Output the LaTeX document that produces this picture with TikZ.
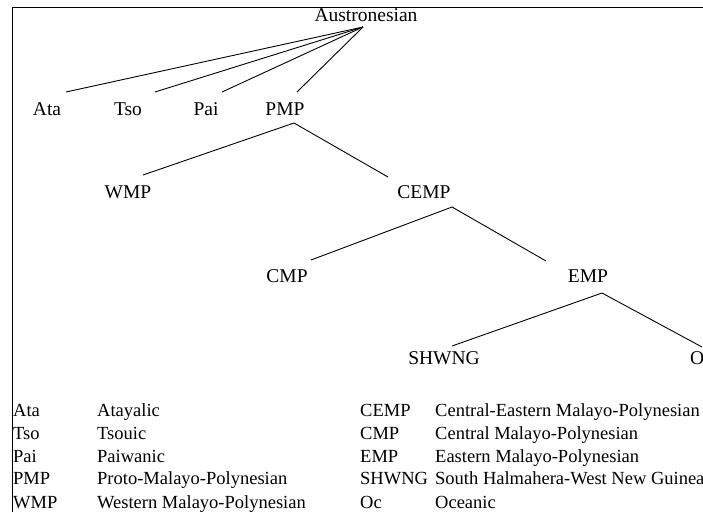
\documentclass[tikz,border=0pt]{standalone}
\usepackage{fontspec}
\setmainfont{Liberation Serif}
\begin{document}
\begin{tikzpicture}[x=1pt,y=-1pt,
  treelabel/.style={inner sep=0pt,anchor=base,font=\fontsize{19.5}{21}\selectfont},
  legabbr/.style={inner sep=0pt,anchor=base west,font=\fontsize{18.5}{20}\selectfont},
  branch/.style={line width=0.9pt},
  frameline/.style={line width=1pt}]
\useasboundingbox (0,0) rectangle (703,512);
\clip (0,0) rectangle (703,512);
% frame
\coordinate (fa) at (12,512);
\coordinate (fb) at (12,7);
\coordinate (fc) at (710,7);
\draw[frameline] (fa) -- (fb) -- (fc);
% tree labels
\node[treelabel] (aus) at (366,21.5) {Austronesian};
\node[treelabel] (ata) at (47,115.5) {Ata};
\node[treelabel] (tso) at (128,115.5) {Tso};
\node[treelabel] (pai) at (206,115.5) {Pai};
\node[treelabel] (pmp) at (285,115.5) {PMP};
\node[treelabel] (wmp) at (128,198.5) {WMP};
\node[treelabel] (cemp) at (424,198.5) {CEMP};
\node[treelabel] (cmp) at (287,282) {CMP};
\node[treelabel] (emp) at (588,282) {EMP};
\node[treelabel] (shwng) at (444,364.5) {SHWNG};
\node[treelabel,anchor=base west] (oc) at (690,364.5) {Oc};
% connector ends
\coordinate (aus-b) at (363,27);
\coordinate (ata-t) at (66,92);
\coordinate (tso-t) at (155,92);
\coordinate (pai-t) at (222,92);
\coordinate (pmp-t) at (297,92);
\coordinate (pmp-b) at (294,123);
\coordinate (wmp-t) at (143,175);
\coordinate (cemp-t) at (388,177);
\coordinate (cemp-b) at (452,207);
\coordinate (cmp-t) at (311,260);
\coordinate (emp-t) at (546,261);
\coordinate (emp-b) at (602,293);
\coordinate (shwng-t) at (452,346);
\coordinate (oc-t) at (702,347);
\draw[branch] (aus-b) -- (ata-t);
\draw[branch] (aus-b) -- (tso-t);
\draw[branch] (aus-b) -- (pai-t);
\draw[branch] (aus-b) -- (pmp-t);
\draw[branch] (wmp-t) -- (pmp-b) -- (cemp-t);
\draw[branch] (cmp-t) -- (cemp-b) -- (emp-t);
\draw[branch] (shwng-t) -- (emp-b) -- (oc-t);
% legend
\node[legabbr] (l1a) at (13,416) {Ata};
\node[legabbr] (l1b) at (97,416) {Atayalic};
\node[legabbr] (l2a) at (13,439) {Tso};
\node[legabbr] (l2b) at (97,439) {Tsouic};
\node[legabbr] (l3a) at (13,462) {Pai};
\node[legabbr] (l3b) at (97,462) {Paiwanic};
\node[legabbr] (l4a) at (13,484) {PMP};
\node[legabbr] (l4b) at (97,484) {Proto-Malayo-Polynesian};
\node[legabbr] (l5a) at (13,508) {WMP};
\node[legabbr] (l5b) at (97,508) {Western Malayo-Polynesian};
\node[legabbr] (r1a) at (360,416) {CEMP};
\node[legabbr] (r1b) at (435,416) {Central-Eastern Malayo-Polynesian};
\node[legabbr] (r2a) at (360,439) {CMP};
\node[legabbr] (r2b) at (435,439) {Central Malayo-Polynesian};
\node[legabbr] (r3a) at (360,462) {EMP};
\node[legabbr] (r3b) at (435,462) {Eastern Malayo-Polynesian};
\node[legabbr] (r4a) at (360,484) {SHWNG};
\node[legabbr] (r4b) at (435,484) {South Halmahera-West New Guinea};
\node[legabbr] (r5a) at (360,508) {Oc};
\node[legabbr] (r5b) at (435,508) {Oceanic};
\end{tikzpicture}
\end{document}
